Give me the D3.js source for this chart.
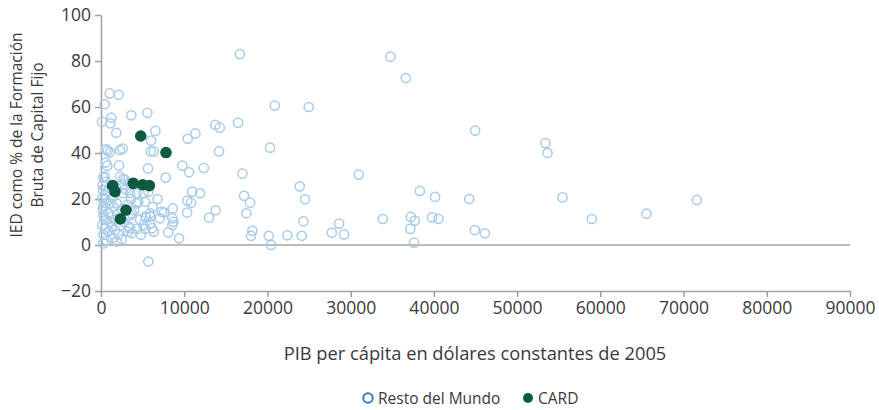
<!DOCTYPE html>
<html>
<head>
<meta charset="utf-8">
<script src="https://cdn.jsdelivr.net/npm/d3@7"></script>
<style>
  html, body { margin: 0; padding: 0; background: #fff; }
  svg text { font-family: "Open Sans", "Noto Sans", sans-serif; fill: #3a3a3a; }
</style>
</head>
<body>
<svg id="chart" width="879" height="410"></svg>
<script>
// GDP per capita (constant 2005 USD) and FDI as % of gross fixed capital formation
const restoMundo = [
  [16680, 83.0], [34780, 81.9], [36620, 72.6], [1045, 65.9], [2125, 65.3], [445, 61.2],
  [20880, 60.6], [24960, 60.0], [120, 53.6], [1240, 55.4], [1120, 52.9], [3640, 56.4],
  [5570, 57.5], [1840, 48.8], [6530, 49.6], [6010, 45.4], [10420, 46.2], [11340, 48.5],
  [13740, 52.2], [14270, 51.0], [16470, 53.2], [20310, 42.3], [44960, 49.7], [14180, 40.7],
  [12350, 33.5], [16990, 31.0], [30980, 30.6], [53410, 44.3], [53650, 40.0],
  [600, 41.7], [800, 41.0], [1080, 40.3], [2280, 41.3], [2600, 41.9], [5970, 40.7],
  [6330, 40.7], [560, 35.8], [760, 34.5], [2160, 34.6], [5650, 33.3], [9770, 34.5],
  [10580, 31.6], [280, 29.3], [2280, 29.7], [2680, 28.8], [7770, 29.3], [480, 29.7],
  [2880, 28.3], [3400, 27.1],
  [11900, 22.5], [17190, 21.4], [17910, 18.4], [23880, 25.5], [24520, 19.9], [38310, 23.5],
  [40150, 20.9], [44240, 20.0], [13790, 15.1], [12980, 11.9], [17470, 13.8], [24320, 10.3],
  [18190, 6.2], [18030, 4.0], [20160, 4.0], [22390, 4.2], [24120, 4.0], [20430, 0.0],
  [28610, 9.3], [27730, 5.4], [29210, 4.6], [33860, 11.3], [37230, 12.2], [37700, 10.6],
  [37180, 7.0], [37620, 1.0], [39780, 12.0], [40550, 11.4], [44920, 6.5], [46120, 5.1],
  [55450, 20.7], [58980, 11.3], [65550, 13.6], [71600, 19.6],
  [10970, 23.2], [10370, 19.3], [10820, 18.4], [8620, 15.9], [7300, 14.5], [7570, 14.1],
  [7090, 11.6], [8570, 11.6], [8690, 10.1], [8570, 8.7], [10340, 14.1], [8090, 5.5],
  [9380, 2.9], [6130, 7.3], [6330, 5.8], [5330, 12.3], [5930, 12.3],
  [200, 26.1], [250, 23.9], [480, 21.7], [360, 19.6], [600, 18.1], [2600, 26.1],
  [3000, 24.2], [2680, 22.5], [3490, 22.5], [4290, 22.5], [5090, 22.5], [5690, 23.2],
  [4480, 18.8], [4290, 18.1], [5290, 18.8], [1080, 18.1], [1480, 16.7], [1890, 18.1],
  [5890, 13.8], [5090, 8.7], [5890, 9.4], [3690, 13.8], [3490, 13.0], [3490, 7.2],
  [3280, 5.8], [3690, 5.1], [2490, 2.5], [280, 0.7], [5690, -7.2], [280, 13.0],
  [880, 13.8], [1290, 12.3], [650, 10.9], [1080, 10.1], [1680, 10.9],
  [150, 20.5], [300, 17.0], [200, 15.5], [400, 11.5], [150, 8.5], [500, 7.0],
  [900, 6.0], [300, 4.5], [1300, 8.0], [1700, 6.5], [2100, 4.5], [1400, 3.0],
  [700, 2.0], [1900, 1.5], [2300, 8.5], [2700, 10.0], [2000, 13.5], [2500, 15.5],
  [3200, 17.5], [4000, 15.0], [4700, 11.0], [4300, 7.0], [4800, 4.5], [5400, 12.0],
  [6200, 16.5], [6800, 20.0], [3600, 20.0], [1500, 21.0], [900, 23.5], [1800, 25.0],
  [600, 27.5], [4000, 26.5], [3330, 8.0], [5300, 7.0]
];
const card = [
  [4770, 47.4], [7810, 40.2], [3880, 26.8], [5010, 26.2], [5810, 25.8],
  [1400, 25.8], [1680, 23.2], [3000, 15.2], [2330, 11.3]
];
const xTicks = [0, 10000, 20000, 30000, 40000, 50000, 60000, 70000, 80000, 90000];
const yTicks = [-20, 0, 20, 40, 60, 80, 100];
const seriesNames = ["Resto del Mundo", "CARD"];
const xTitle = "PIB per cápita en dólares constantes de 2005";
const yTitle = ["IED como % de la Formación", "Bruta de Capital Fijo"];

const svg = d3.select("#chart");
const x = d3.scaleLinear().domain([0, 90000]).range([101, 850]);
const y = d3.scaleLinear().domain([-20, 100]).range([291, 15]);
const axisColor = "#a3a3a3";
const blue = "#a7cbe9";
const green = "#0d5a41";

// zero reference line
svg.append("line")
  .attr("x1", x(0)).attr("x2", x(90000))
  .attr("y1", y(0)).attr("y2", y(0))
  .attr("stroke", axisColor).attr("stroke-width", 1.6);

// y axis
const gy = svg.append("g").attr("transform", `translate(${x(0)},0)`)
  .call(d3.axisLeft(y).tickValues(yTicks).tickSize(6).tickSizeOuter(0)
    .tickFormat(d => d < 0 ? "\u2212" + Math.abs(d) : d));
gy.select(".domain").attr("stroke", axisColor).attr("stroke-width", 1.6);
gy.selectAll(".tick line").attr("stroke", axisColor).attr("stroke-width", 1.6);
gy.selectAll(".tick text").attr("font-size", 17.5).attr("x", -10)
  .style("font-family", "'Open Sans', sans-serif").attr("fill", "#3a3a3a");

// x axis
const gx = svg.append("g").attr("transform", `translate(0,${y(-20)})`)
  .call(d3.axisBottom(x).tickValues(xTicks).tickSize(6).tickSizeOuter(0)
    .tickFormat(d3.format("d")));
gx.select(".domain").attr("stroke", axisColor).attr("stroke-width", 1.6);
gx.selectAll(".tick line").attr("stroke", axisColor).attr("stroke-width", 1.6);
gx.selectAll(".tick text").attr("font-size", 17.5).attr("y", 11)
  .style("font-family", "'Open Sans', sans-serif").attr("fill", "#3a3a3a");

// rest of the world: open circles
svg.append("g").selectAll("circle").data(restoMundo).join("circle")
  .attr("cx", d => x(d[0])).attr("cy", d => y(d[1])).attr("r", 4.6)
  .attr("fill", "none").attr("stroke", blue).attr("stroke-width", 1.5);

// CARD: filled circles
svg.append("g").selectAll("circle").data(card).join("circle")
  .attr("cx", d => x(d[0])).attr("cy", d => y(d[1])).attr("r", 5.8)
  .attr("fill", green);

// axis titles
svg.append("text").attr("x", 475).attr("y", 360).attr("text-anchor", "middle")
  .attr("font-size", 18.3).text(xTitle);
yTitle.forEach((t, i) => {
  svg.append("text")
    .attr("transform", `translate(${22 + i * 21},135) rotate(-90)`)
    .attr("text-anchor", "middle").attr("font-size", 15.5).text(t);
});

// legend
const leg = svg.append("g");
leg.append("circle").attr("cx", 368).attr("cy", 398).attr("r", 4.8)
  .attr("fill", "none").attr("stroke", "#2f7fbf").attr("stroke-width", 2);
leg.append("text").attr("x", 378).attr("y", 404).attr("font-size", 15.5).text(seriesNames[0]);
leg.append("circle").attr("cx", 528).attr("cy", 398).attr("r", 5)
  .attr("fill", green);
leg.append("text").attr("x", 538).attr("y", 404).attr("font-size", 15.5).text(seriesNames[1]);
</script>
</body>
</html>
